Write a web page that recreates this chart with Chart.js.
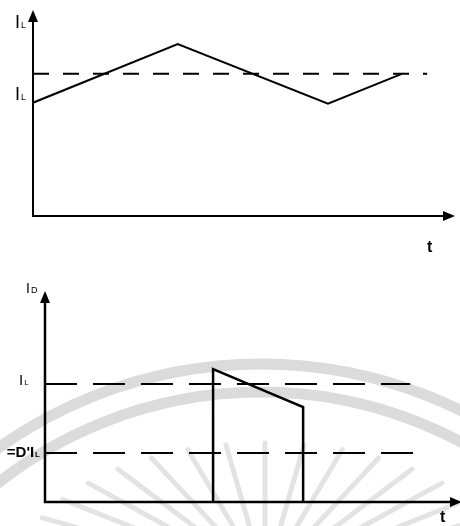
<!DOCTYPE html>
<html><head><meta charset="utf-8">
<script src="https://cdn.jsdelivr.net/npm/chart.js@4"></script>
<style>
html,body{margin:0;padding:0;background:#fff;}
#wrap{position:relative;width:460px;height:526px;overflow:hidden;background:#fff;}
canvas{position:absolute;left:0;top:0;}
</style></head><body>
<div id="wrap"><canvas id="c1" width="460" height="526"></canvas><canvas id="c2" width="460" height="526"></canvas></div>
<script>
// ---- Top panel: inductor current i_L(t) ----
const topTime = [0, 3.43, 6.99, 8.74];
const topCurrent = [5.5, 8.35, 5.45, 6.9];
const topAverage = 6.9;
const topAverageSpan = [0, 9.34];
// ---- Bottom panel: diode current i_D(t) ----
const bottomTime = [4.05, 4.05, 6.22, 6.22];
const bottomCurrent = [0, 6.30, 4.50, 0];
const bottomLevels = [5.59, 2.32];            // I_L and D'I_L
const bottomLevelEnds = [8.8, 8.96];
const axisMax = 10;
const labelTop = ['I', 'L'];
const labelDiode = ['I', 'D'];
const labelAvg = ["=D'I", 'L'];
const labelTime = 't';

const FONT = '"Liberation Sans", Arial, sans-serif';

function drawSub(ctx, x, y, main, sub, size, subSize, align, weight) {
  const wt = weight ? weight + ' ' : '';
  ctx.font = wt + size + 'px ' + FONT;
  const w = ctx.measureText(main).width;
  ctx.font = wt + subSize + 'px ' + FONT;
  const ws = ctx.measureText(sub).width;
  let sx = x;
  if (align === 'right') sx = x - w - ws - 1;
  ctx.font = wt + size + 'px ' + FONT;
  ctx.fillText(main, sx, y);
  ctx.font = wt + subSize + 'px ' + FONT;
  ctx.fillText(sub, sx + w + 1, y);
}

function axesPlugin(cfg) {
  return {
    id: 'axesArrows',
    beforeDraw(chart) { if (cfg.background) cfg.background(chart); },
    afterDatasetsDraw(chart) {
      const { ctx, scales: { x, y } } = chart;
      const x0 = x.getPixelForValue(0), y0 = y.getPixelForValue(0);
      const x1 = x.getPixelForValue(axisMax) + cfg.xExtra, y1 = y.getPixelForValue(axisMax);
      ctx.save();
      ctx.strokeStyle = '#000'; ctx.fillStyle = '#000';
      ctx.lineWidth = cfg.w; ctx.lineCap = 'butt';
      ctx.beginPath();
      ctx.moveTo(x0, y1 + 10); ctx.lineTo(x0, y0); ctx.lineTo(x1 - 10, y0);
      ctx.stroke();
      ctx.beginPath();
      ctx.moveTo(x0, y1); ctx.lineTo(x0 - 5, y1 + 12); ctx.lineTo(x0 + 5, y1 + 12); ctx.closePath(); ctx.fill();
      ctx.beginPath();
      ctx.moveTo(x1, y0); ctx.lineTo(x1 - 12, y0 - 5); ctx.lineTo(x1 - 12, y0 + 5); ctx.closePath(); ctx.fill();
      ctx.textBaseline = 'alphabetic';
      cfg.labels(ctx, x, y);
      ctx.restore();
    }
  };
}

function seg(xs, ys) { return xs.map((v, i) => ({ x: v, y: ys[i] })); }

const common = {
  responsive: false, animation: false, devicePixelRatio: 1, events: [],
  plugins: { legend: { display: false }, tooltip: { enabled: false } },
  elements: { point: { radius: 0 }, line: { tension: 0 } }
};

new Chart(document.getElementById('c1'), {
  type: 'line',
  data: { datasets: [
    { data: seg(topTime, topCurrent), borderColor: '#000', borderWidth: 2, fill: false },
    { data: seg(topAverageSpan, [topAverage, topAverage]), borderColor: '#000', borderWidth: 2, borderDash: [16, 14], fill: false }
  ]},
  options: Object.assign({}, common, {
    layout: { padding: { left: 33, right: 5, top: 10, bottom: 310 } },
    scales: {
      x: { type: 'linear', min: 0, max: axisMax, display: false },
      y: { type: 'linear', min: 0, max: axisMax, display: false }
    }
  }),
  plugins: [axesPlugin({ w: 2, xExtra: 0, labels(ctx, x, y) {
    drawSub(ctx, 15, 28, labelTop[0], labelTop[1], 18, 9);
    drawSub(ctx, 15, y.getPixelForValue(topCurrent[0]) - 3, labelTop[0], labelTop[1], 18, 9);
    ctx.font = 'bold 16px ' + FONT;
    ctx.fillText(labelTime, 427, y.getPixelForValue(0) + 36);
  }})]
});

new Chart(document.getElementById('c2'), {
  type: 'line',
  data: { datasets: [
    { data: seg(bottomTime, bottomCurrent), borderColor: '#000', borderWidth: 2.5, fill: false },
    { data: seg([0, bottomLevelEnds[0]], [bottomLevels[0], bottomLevels[0]]), borderColor: '#000', borderWidth: 2, borderDash: [32, 16], fill: false },
    { data: seg([0, bottomLevelEnds[1]], [bottomLevels[1], bottomLevels[1]]), borderColor: '#000', borderWidth: 2, borderDash: [32, 16], fill: false }
  ]},
  options: Object.assign({}, common, {
    layout: { padding: { left: 45, right: 0, top: 291, bottom: 24 } },
    scales: {
      x: { type: 'linear', min: 0, max: axisMax, display: false },
      y: { type: 'linear', min: 0, max: axisMax, display: false }
    }
  }),
  plugins: [axesPlugin({ w: 2.5, xExtra: 2,
    background(chart) {
      const ctx = chart.ctx;
      ctx.save();
      ctx.strokeStyle = 'rgba(0,0,0,0.14)';
      ctx.lineWidth = 11;
      [453, 425].forEach(r => { ctx.beginPath(); ctx.arc(261, 817, r, Math.PI, 2 * Math.PI); ctx.stroke(); });
      ctx.strokeStyle = 'rgba(0,0,0,0.11)';
      ctx.lineWidth = 5; ctx.lineCap = 'round';
      for (let k = 0; k <= 16; k++) {
        const a = Math.PI * (1.1 + 0.8 * k / 16);
        const ox = 265 + 250 * Math.cos(a), oy = 580 + 137 * Math.sin(a);
        const ix = 265 + 0.35 * 250 * Math.cos(a), iy = 580 + 0.35 * 137 * Math.sin(a);
        ctx.beginPath(); ctx.moveTo(ox, oy); ctx.lineTo(ix, iy); ctx.stroke();
      }
      ctx.restore();
    },
    labels(ctx, x, y) {
      drawSub(ctx, 26, 293, labelDiode[0], labelDiode[1], 14, 9);
      drawSub(ctx, 19, y.getPixelForValue(bottomLevels[0]) + 1, labelTop[0], labelTop[1], 15, 8);
      drawSub(ctx, 40, y.getPixelForValue(bottomLevels[1]) + 4, labelAvg[0], labelAvg[1], 15, 8, 'right', 'bold');
      ctx.font = 'bold 16px ' + FONT;
      ctx.fillText(labelTime, 440, y.getPixelForValue(0) + 20);
    }
  })]
});
</script>
</body></html>
